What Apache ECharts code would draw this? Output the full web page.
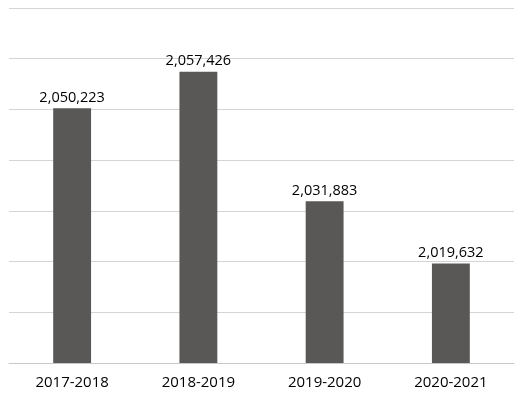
<!DOCTYPE html>
<html><head><meta charset="utf-8">
<script src="https://cdn.jsdelivr.net/npm/echarts@6/dist/echarts.min.js"></script>
<style>html,body{margin:0;padding:0;background:#fff}#c{width:524px;height:404px}</style>
</head><body><div id="c"></div>
<script>
const categories = ['2017-2018', '2018-2019', '2019-2020', '2020-2021'];
const values = [2050223, 2057426, 2031883, 2019632];
const yMin = 2000000, yMax = 2070000, yStep = 10000;

const chart = echarts.init(document.getElementById('c'));
chart.setOption({
  animation: false,
  grid: { left: 9, right: 10, top: 8, bottom: 41 },
  xAxis: {
    type: 'category', data: categories,
    axisLine: { lineStyle: { color: '#c8c8c8', width: 1 } },
    axisTick: { show: false },
    axisLabel: { color: '#000', fontSize: 15, fontFamily: 'Open Sans, sans-serif', margin: 12 }
  },
  yAxis: {
    type: 'value', min: yMin, max: yMax, interval: yStep,
    axisLabel: { show: false }, axisLine: { show: false }, axisTick: { show: false },
    splitLine: { lineStyle: { color: '#d4d4d4', width: 1 } }
  },
  series: [{
    type: 'bar', data: values, barWidth: '30%',
    itemStyle: { color: '#595856' },
    label: {
      show: true, position: 'top', distance: 3, color: '#000', fontSize: 14.5,
      fontFamily: 'Open Sans, sans-serif',
      formatter: p => p.value.toLocaleString('en-US')
    }
  }]
});
</script></body></html>
